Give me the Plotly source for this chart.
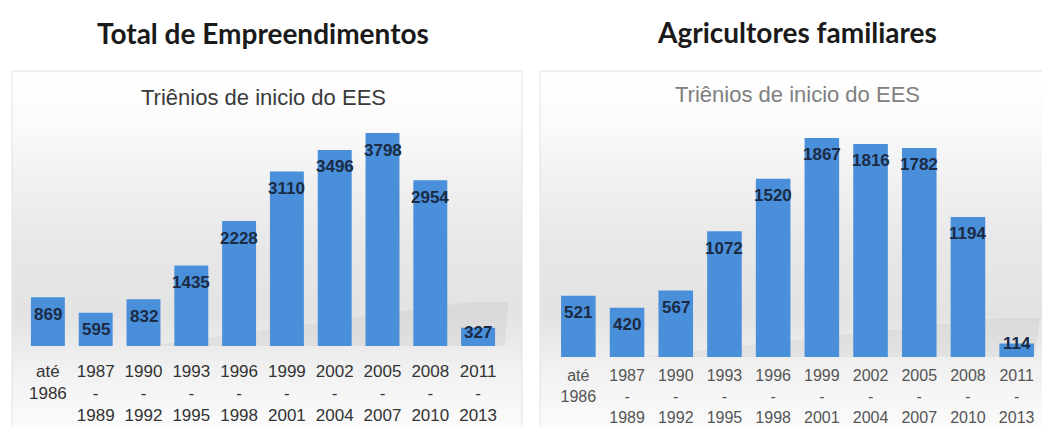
import plotly.graph_objects as go

# ---------------- data ----------------
categories = ["até<br>1986", "1987<br>-<br>1989", "1990<br>-<br>1992", "1993<br>-<br>1995",
              "1996<br>-<br>1998", "1999<br>-<br>2001", "2002<br>-<br>2004", "2005<br>-<br>2007",
              "2008<br>-<br>2010", "2011<br>-<br>2013"]
total_values = [869, 595, 832, 1435, 2228, 3110, 3496, 3798, 2954, 327]
agri_values = [521, 420, 567, 1072, 1520, 1867, 1816, 1782, 1194, 114]

title_left = "Total de Empreendimentos"
title_right = "Agricultores familiares"
subtitle = "Triênios de inicio do EES"

# ---------------- layout constants ----------------
W, H = 1042, 427
BAR_COLOR = "#4a8fda"
LABEL_COLOR = "#1b2b44"

left_dom_x = [24 / W, 502 / W]
left_dom_y = [(H - 346) / H, (H - 120) / H]
left_range = [0, 4030]

right_dom_x = [554 / W, 1041 / W]
right_dom_y = [(H - 357) / H, (H - 120) / H]
right_range = [0, 2020]

fig = go.Figure()

# background panels (gradient) on a pixel-coordinate overlay axis
grad = [[0.0, "#fbfbfb"], [0.15, "#f2f2f2"], [0.32, "#e3e3e3"], [0.5, "#e7e7e7"],
        [0.7, "#f1f1f1"], [0.86, "#fbfbfb"], [1.0, "#ffffff"]]
for x0, x1 in [(12, 522), (540, 1046)]:
    fig.add_trace(go.Scatter(
        x=[x0, x1, x1, x0, x0], y=[71, 71, 428, 428, 71],
        mode="lines", fill="toself",
        line=dict(color="#e2e2e2", width=1),
        fillgradient=dict(type="vertical", colorscale=grad, start=428, stop=71),
        hoverinfo="skip", showlegend=False, xaxis="x", yaxis="y"))

# faint diagonal "floor" shadows behind the bars
for pts in [([150, 505, 508, 470], [346, 346, 302, 302]),
            ([640, 1035, 1040, 1000], [357, 357, 318, 318])]:
    xs, ys = pts
    fig.add_trace(go.Scatter(
        x=xs + [xs[0]], y=ys + [ys[0]], mode="lines", fill="toself",
        line=dict(width=0, color="rgba(0,0,0,0)"), fillcolor="rgba(150,150,150,0.12)",
        hoverinfo="skip", showlegend=False, xaxis="x", yaxis="y"))

fig.add_trace(go.Bar(x=categories, y=total_values, marker=dict(color=BAR_COLOR, line=dict(width=0)),
                     xaxis="x2", yaxis="y2", showlegend=False, hoverinfo="skip"))
fig.add_trace(go.Bar(x=categories, y=agri_values, marker=dict(color=BAR_COLOR, line=dict(width=0)),
                     xaxis="x3", yaxis="y3", showlegend=False, hoverinfo="skip"))

annotations = []


def add_labels(values, xref, yref, dom_y, rng):
    px_per_unit = (dom_y[1] - dom_y[0]) * H / (rng[1] - rng[0])
    for c, v in zip(categories, values):
        h = v * px_per_unit
        shift = min(17, max(0, h - 13))
        annotations.append(dict(x=c, y=v, xref=xref, yref=yref, text=str(v), showarrow=False,
                                yanchor="middle", yshift=-shift,
                                font=dict(family="Liberation Sans, Arial", size=17,
                                          color=LABEL_COLOR, weight="bold")))


add_labels(total_values, "x2", "y2", left_dom_y, left_range)
add_labels(agri_values, "x3", "y3", right_dom_y, right_range)

# titles
annotations += [
    dict(x=263 / W, y=1 - 33 / H, xref="paper", yref="paper", text=title_left, showarrow=False,
         xanchor="center", yanchor="middle",
         font=dict(family="Lato, Open Sans", size=28, color="#1a1a1a", weight="bold")),
    dict(x=797 / W, y=1 - 32 / H, xref="paper", yref="paper", text=title_right, showarrow=False,
         xanchor="center", yanchor="middle",
         font=dict(family="Lato, Open Sans", size=28, color="#1a1a1a", weight="bold")),
    dict(x=263 / W, y=1 - 97 / H, xref="paper", yref="paper", text=subtitle, showarrow=False,
         xanchor="center", yanchor="middle",
         font=dict(family="Liberation Sans, Arial", size=22, color="#3a3a3a")),
    dict(x=797 / W, y=1 - 94 / H, xref="paper", yref="paper", text=subtitle, showarrow=False,
         xanchor="center", yanchor="middle",
         font=dict(family="Liberation Sans, Arial", size=22, color="#808080")),
]

hidden = dict(visible=False, showgrid=False, zeroline=False, fixedrange=True, automargin=False)

fig.update_layout(
    width=W, height=H,
    margin=dict(l=0, r=0, t=0, b=0, autoexpand=False),
    paper_bgcolor="white", plot_bgcolor="rgba(0,0,0,0)",
    bargap=0.29,
    xaxis=dict(domain=[0, 1], range=[0, W], **hidden),
    yaxis=dict(domain=[0, 1], range=[H, 0], **hidden),
    xaxis2=dict(domain=left_dom_x, anchor="y2", showgrid=False, zeroline=False, showline=False,
                ticks="", tickangle=0, ticklabelstandoff=13, automargin=False,
                tickfont=dict(family="Liberation Sans, Arial", size=17, color="#333333")),
    yaxis2=dict(domain=left_dom_y, anchor="x2", range=left_range, visible=False, showgrid=False,
                automargin=False),
    xaxis3=dict(domain=right_dom_x, anchor="y3", showgrid=False, zeroline=False, showline=False,
                ticks="", tickangle=0, ticklabelstandoff=7, automargin=False,
                tickfont=dict(family="Liberation Sans, Arial", size=16, color="#555555")),
    yaxis3=dict(domain=right_dom_y, anchor="x3", range=right_range, visible=False, showgrid=False,
                automargin=False),
    annotations=annotations,
)

fig.write_html("out.html", config={"displayModeBar": False},
               post_script="document.body.style.margin='0';document.body.style.overflow='hidden';")
